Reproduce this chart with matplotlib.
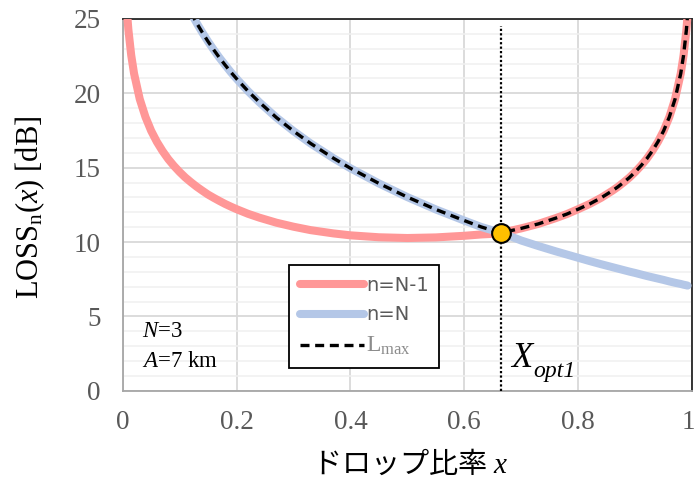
import matplotlib
matplotlib.use("Agg")
import matplotlib.pyplot as plt
import matplotlib.transforms as mtransforms
import numpy as np

plt.rcParams['font.family'] = ['Liberation Serif', 'DejaVu Sans']
plt.rcParams['mathtext.fontset'] = 'custom'
plt.rcParams['mathtext.rm'] = 'Liberation Serif'
plt.rcParams['mathtext.it'] = 'Liberation Serif:italic'
plt.rcParams['mathtext.bf'] = 'Liberation Serif:bold'

# drop ratio x and loss values [dB] for n=N-1 and n=N (N=3, A=7 km)
drop_ratio = [0.008, 0.01, 0.015, 0.02, 0.03, 0.04, 0.05, 0.06, 0.07, 0.08,
              0.09, 0.10, 0.11, 0.12, 0.13, 0.14, 0.15, 0.16, 0.17, 0.18,
              0.19, 0.20, 0.22, 0.24, 0.27, 0.30, 0.33, 0.37, 0.40, 0.45,
              0.50, 0.55, 0.60, 0.63, 0.65, 0.665, 0.70, 0.73, 0.76, 0.78,
              0.80, 0.82, 0.84, 0.86, 0.87, 0.88, 0.89, 0.90, 0.91, 0.92,
              0.93, 0.94, 0.95, 0.96, 0.97, 0.98, 0.985, 0.99, 0.992]
loss_n_minus_1 = [25.25, 24.29, 22.56, 21.33, 19.61, 18.41, 17.48, 16.74, 16.12, 15.58,
                  15.12, 14.71, 14.34, 14.02, 13.72, 13.45, 13.19, 12.97, 12.76, 12.56,
                  12.38, 12.21, 11.90, 11.64, 11.30, 11.03, 10.80, 10.58, 10.45, 10.32,
                  10.27, 10.31, 10.42, 10.51, 10.55, 10.62, 10.92, 11.22, 11.60, 11.88,
                  12.21, 12.56, 12.97, 13.45, 13.72, 14.02, 14.34, 14.71, 15.12, 15.58,
                  16.12, 16.74, 17.48, 18.41, 19.61, 21.33, 22.56, 24.29, 25.25]
loss_n = [48.94, 47.00, 43.48, 40.98, 37.46, 34.96, 33.02, 31.44, 30.10, 28.94,
          27.92, 27.00, 26.17, 25.42, 24.72, 24.08, 23.48, 22.92, 22.39, 21.90,
          21.42, 20.98, 20.15, 19.40, 18.37, 17.46, 16.63, 15.64, 14.96, 13.94,
          13.02, 12.19, 11.44, 11.01, 10.78, 10.62, 10.10, 9.73, 9.38, 9.16,
          8.94, 8.72, 8.51, 8.31, 8.21, 8.11, 8.01, 7.92, 7.82, 7.72,
          7.63, 7.54, 7.45, 7.35, 7.26, 7.18, 7.13, 7.09, 7.07]

# worst case of the two
loss_max = np.maximum(loss_n_minus_1, loss_n)

x_opt = 0.665
loss_opt = 10.62

x_ticks = [0, 0.2, 0.4, 0.6, 0.8, 1]
x_ticklabels = ['0', '0.2', '0.4', '0.6', '0.8', '1']
y_ticks = [0, 5, 10, 15, 20, 25]

fig = plt.figure(figsize=(6.97, 4.86), dpi=100)
ax = fig.add_axes([0.176, 0.196, 0.817, 0.765])

ax.plot(drop_ratio, loss_n_minus_1, color='#FF9797', lw=5.8,
        solid_capstyle='round', solid_joinstyle='round', label='n=N-1', zorder=3)
ax.plot(drop_ratio, loss_n, color='#B4C7E7', lw=5.8,
        solid_capstyle='round', solid_joinstyle='round', label='n=N', zorder=4)
ax.plot(drop_ratio, loss_max, color='black', lw=2.4, dashes=(2.7, 1.7),
        label=r'L$_{\rm max}$', zorder=5)

# optimum drop ratio
ax.plot([x_opt, x_opt], [0, 24.5], color='black', lw=1.6,
        linestyle=(0, (1, 1)), zorder=6)
ax.plot([x_opt], [loss_opt], 'o', ms=13.5, mfc='#FFC000', mec='black',
        mew=1.5, zorder=7)
ax.text(0.683, 1.6, 'X', fontsize=25, fontstyle='italic', color='black')
ax.annotate('opt1', xy=(0.683, 1.6), xytext=(15.5, -7), textcoords='offset points',
            fontsize=17, fontstyle='italic', color='black')

ax.text(0.034, 3.63, r'$N$=3', fontsize=16.5, color='black')
ax.text(0.034, 1.6, r'$A$=7 km', fontsize=16.5, color='black')

ax.set_xlim(0, 1)
ax.set_ylim(0, 25)
ax.set_xticks(x_ticks)
ax.set_xticklabels(x_ticklabels)
ax.set_yticks(y_ticks)
ax.set_yticks(np.arange(0, 26, 1), minor=True)
ax.tick_params(axis='both', which='both', length=0, labelsize=19.5,
               labelcolor='#595959')
ax.tick_params(axis='y', pad=16)
ax.tick_params(axis='x', pad=14)

# keep the last x label inside the figure
last = ax.xaxis.get_major_ticks()[-1].label1
last.set_transform(last.get_transform() +
                   mtransforms.ScaledTranslation(-3 / 72, 0, fig.dpi_scale_trans))

ax.grid(True, which='major', color='#D9D9D9', lw=1.3)
ax.grid(True, which='minor', axis='y', color='#F0F0F0', lw=1.1)
ax.set_axisbelow(True)

for side in ['left', 'bottom']:
    ax.spines[side].set_color('#A6A6A6')
    ax.spines[side].set_linewidth(1.3)
for side in ['top', 'right']:
    ax.spines[side].set_color('#262626')
    ax.spines[side].set_linewidth(1.3)

leg = ax.legend(loc='lower left', bbox_to_anchor=(0.292, 0.061),
                fontsize=14, handlelength=3.3, handletextpad=0.1,
                labelspacing=0.55, borderpad=0.55, borderaxespad=0,
                fancybox=False, framealpha=1, edgecolor='black')
leg.get_frame().set_linewidth(1.3)
texts = leg.get_texts()
texts[0].set_family('DejaVu Sans')
texts[1].set_family('DejaVu Sans')
texts[0].set_color('#595959')
texts[1].set_color('#595959')
texts[2].set_color('#8C8C8C')
texts[2].set_fontsize(17)
leg.set_zorder(8)

fig.text(30 / 697, 1 - 207 / 486, r'LOSS$_{\mathrm{n}}$($x$) [dB]',
         rotation=90, ha='center', va='center', fontsize=22)
fig.text(410 / 697, 1 - 465 / 486, 'ドロップ比率 $x$',
         family=['Noto Sans CJK JP', 'DejaVu Sans'],
         ha='center', va='center', fontsize=21)

fig.savefig('out.png', dpi=100)
